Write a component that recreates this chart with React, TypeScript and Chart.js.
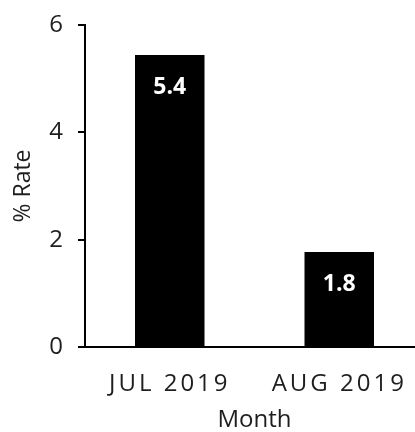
import React, { useEffect, useRef } from "react";
import { Chart, registerables } from "chart.js";

Chart.register(...registerables);

const categories = ["JUL 2019", "AUG 2019"];
const rateValues = [5.44, 1.77];
const yTicks = [0, 2, 4, 6];

const FONT = "'Open Sans', 'DejaVu Sans', sans-serif";
const TEXT = "#1e1e1e";

const labelPlugin = {
  id: "customLabels",
  afterDatasetsDraw(chart: any) {
    const ctx = chart.ctx;
    const meta = chart.getDatasetMeta(0);
    ctx.save();
    ctx.fillStyle = "#ffffff";
    ctx.font = `bold 23px ${FONT}`;
    ctx.textAlign = "center";
    ctx.textBaseline = "middle";
    meta.data.forEach((bar: any, i: number) => {
      ctx.fillText(rateValues[i].toFixed(1), bar.x, bar.y + 32);
    });
    ctx.restore();

    const xScale = chart.scales.x;
    ctx.save();
    ctx.fillStyle = TEXT;
    ctx.font = `24px ${FONT}`;
    (ctx as any).letterSpacing = "3px";
    ctx.textAlign = "center";
    ctx.textBaseline = "middle";
    categories.forEach((c, i) => {
      ctx.fillText(c, xScale.getPixelForTick(i), chart.chartArea.bottom + 37);
    });
    (ctx as any).letterSpacing = "0px";
    ctx.restore();
  },
};

export default function App() {
  const ref = useRef<HTMLCanvasElement>(null);
  useEffect(() => {
    if (!ref.current) return;
    const chart = new Chart(ref.current, {
      type: "bar",
      data: {
        labels: categories,
        datasets: [
          {
            data: rateValues,
            backgroundColor: "#000000",
            borderWidth: 0,
            categoryPercentage: 1,
            barPercentage: 0.41,
          },
        ],
      },
      options: {
        animation: false,
        responsive: true,
        maintainAspectRatio: false,
        layout: { padding: { top: 25, right: 0, bottom: 0, left: 0 } },
        plugins: { legend: { display: false }, tooltip: { enabled: false } },
        scales: {
          x: {
            grid: { display: false, drawTicks: false },
            border: { display: true, color: "#000", width: 2 },
            ticks: { display: false },
            title: {
              display: true,
              text: "Month",
              color: TEXT,
              font: { family: FONT, size: 24, lineHeight: 1 },
              padding: { top: 0, bottom: 0 },
            },
            afterFit: (s: any) => {
              s.height = 85;
            },
          },
          y: {
            min: 0,
            max: 6,
            afterBuildTicks: (s: any) => {
              s.ticks = yTicks.map((v) => ({ value: v }));
            },
            grid: {
              drawOnChartArea: false,
              drawTicks: true,
              tickLength: 7,
              color: "#000",
              lineWidth: 2,
            },
            border: { display: true, color: "#000", width: 2 },
            ticks: {
              color: TEXT,
              font: { family: FONT, size: 24 },
              padding: 15,
            },
            title: {
              display: true,
              text: "% Rate",
              color: TEXT,
              font: { family: FONT, size: 23 },
              padding: { top: 10, bottom: 0 },
            },
            afterFit: (s: any) => {
              s.width = 85;
              s.paddingTop = 0;
              s.paddingBottom = 0;
            },
          },
        },
      },
      plugins: [labelPlugin],
    });
    return () => chart.destroy();
  }, []);

  return (
    <div
      style={{
        position: "absolute",
        left: 0,
        top: 0,
        width: 415,
        height: 432,
        overflow: "hidden",
        background: "#fff",
      }}
    >
      <div style={{ position: "relative", width: 424, height: 432 }}>
        <canvas ref={ref} />
      </div>
    </div>
  );
}
